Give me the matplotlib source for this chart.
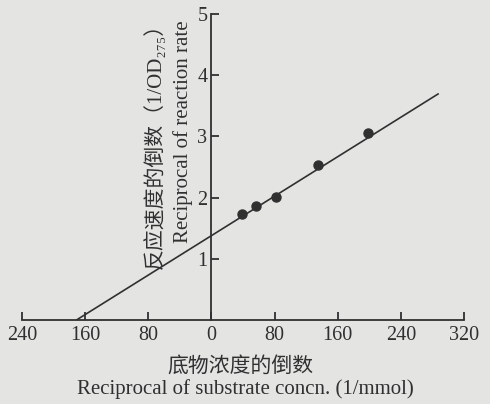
import matplotlib
matplotlib.use("Agg")
import matplotlib.pyplot as plt

# Data
point_x = [39, 57, 82, 135, 198]
point_y = [1.74, 1.86, 2.01, 2.53, 3.06]
line_x = [-171, 288]
line_y = [0.0, 3.70]

x_ticks = [-240, -160, -80, 0, 80, 160, 240, 320]
x_ticklabels = ["240", "160", "80", "0", "80", "160", "240", "320"]
y_ticks = [1, 2, 3, 4, 5]
y_ticklabels = ["1", "2", "3", "4", "5"]

xlabel_cn = "底物浓度的倒数"
xlabel_en = "Reciprocal of substrate concn. (1/mmol)"
ylabel_cn = "反应速度的倒数（1/OD₂₇₅）"
ylabel_en = "Reciprocal of reaction rate"

FAM = ['Liberation Serif', 'Noto Sans CJK SC', 'DejaVu Sans']
BG = '#e4e4e3'
INK = '#303030'

fig = plt.figure(figsize=(4.9, 4.04), dpi=100, facecolor=BG)
ax = fig.add_axes([22/490, 1 - 320/404, (464 - 22)/490, (320 - 14)/404])
ax.set_facecolor(BG)
ax.patch.set_alpha(0)

ax.plot(line_x, line_y, color=INK, lw=1.2, solid_capstyle='butt')
ax.plot(point_x, point_y, 'o', color=INK, ms=6.5, mec=INK)

ax.set_xlim(-240, 320)
ax.set_ylim(0, 5)
for s in ['top', 'right']:
    ax.spines[s].set_visible(False)
ax.spines['left'].set_position(('data', 0))
ax.spines['bottom'].set_position(('data', 0))
for s in ['left', 'bottom']:
    ax.spines[s].set_color(INK)
    ax.spines[s].set_linewidth(1.3)

ax.set_xticks(x_ticks)
ax.set_xticklabels(x_ticklabels)
ax.set_yticks(y_ticks)
ax.set_yticklabels(y_ticklabels)
ax.tick_params(axis='both', direction='in', length=6, width=1.3, color=INK,
               labelcolor=INK, labelsize=14.5)
ax.tick_params(axis='x', pad=4)
ax.tick_params(axis='y', pad=3)
for lab in ax.get_xticklabels() + ax.get_yticklabels():
    lab.set_family(FAM)
for t in ax.get_xticklabels():
    t.set_clip_on(False)

fig.text(240/490, 1 - 367/404, xlabel_cn, family=FAM, fontsize=15, color=INK,
         ha='center', va='center')
fig.text(245/490, 1 - 389/404, xlabel_en, family=FAM, fontsize=15, color=INK,
         ha='center', va='center')
fig.text(155/490, 1 - 141/404, ylabel_cn, family=FAM, fontsize=15, color=INK,
         ha='center', va='center', rotation=90)
fig.text(183/490, 1 - 132/404, ylabel_en, family=FAM, fontsize=15, color=INK,
         ha='center', va='center', rotation=90)

fig.savefig('out.png', dpi=100, facecolor=BG)
